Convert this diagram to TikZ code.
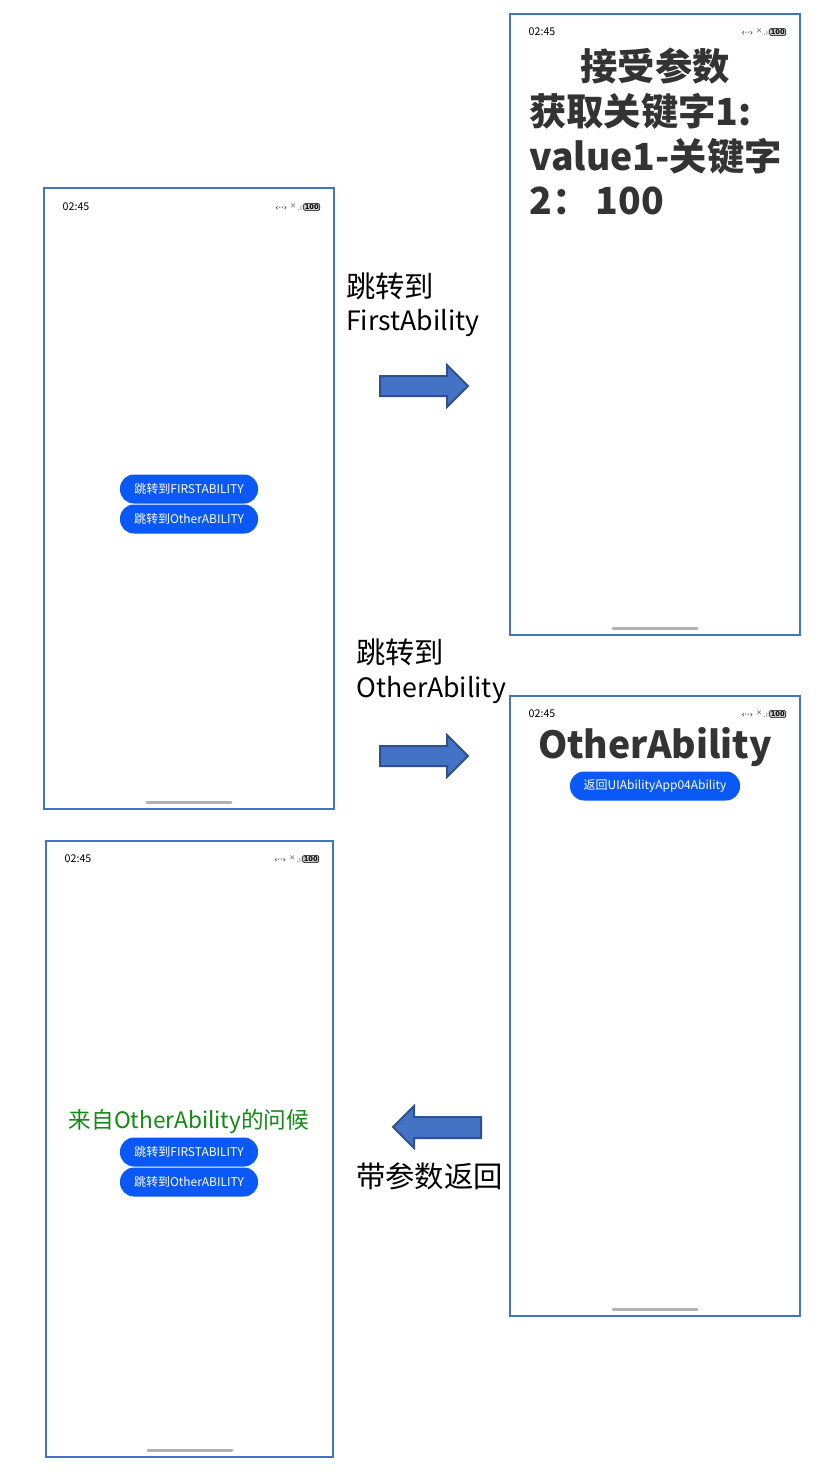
\documentclass[tikz,border=0pt]{standalone}
\usepackage{fontspec}
\setmainfont{Noto Sans CJK SC}
\newfontfamily\dejavu{DejaVu Sans}
\definecolor{frame}{HTML}{4472C4}
\definecolor{btn}{HTML}{0A59F7}
\definecolor{arrf}{HTML}{4472C4}
\definecolor{arrd}{HTML}{2F528F}
\definecolor{grn}{HTML}{138A13}
\tikzset{
 phone/.style={draw=frame,line width=1.2pt,fill=white},
 pbtn/.style={fill=btn,rounded corners=10.5pt,minimum width=138pt*0.75,minimum height=29pt*0.75,text=white,font=\fontsize{9}{10}\selectfont,inner sep=0pt},
 status/.style={font=\fontsize{8}{9}\selectfont,anchor=west},
 homebar/.style={line width=3pt*0.75,draw=gray!60,line cap=round},
 bigarrow/.style={draw=arrd,line width=1.5pt,fill=arrf,line join=miter},
 lbl/.style={anchor=west,font=\fontsize{22}{25}\selectfont,align=left,inner sep=0pt},
 title/.style={font=\fontsize{28}{34}\selectfont\bfseries,text=black!80,inner sep=0pt}
}
\newcommand{\statusbar}[3]{%
 \node[status] at (#1+14,#2) {02:45};
 \node[font=\dejavu\fontsize{6}{7}\selectfont,anchor=east,inner sep=1pt] at (#3-28,#2) {‹··› $^{\times}$\textcolor{gray}{.ıl}};
 \node[draw,rounded corners=1.5pt,fill=gray!40,font=\dejavu\bfseries\fontsize{5}{6}\selectfont,inner sep=0.8pt,anchor=east] at (#3-14,#2) {100};}
\begin{document}
\begin{tikzpicture}[x=0.75pt,y=-0.75pt]
\useasboundingbox[fill=white] (0,0) rectangle (825,1471);
% phone 1
\draw[phone] (44,188) rectangle (334,809);
\statusbar{44}{207}{334}
\node[pbtn] (b1) at (189,489) {跳转到FIRSTABILITY};
\node[pbtn] (b2) at (189,519) {跳转到OtherABILITY};
\draw[homebar] (147,802) -- (231,802);
% phone 2
\draw[phone] (510,14) rectangle (800,635);
\statusbar{510}{32}{800}
\node[title] (t2a) at (655,66) {接受参数};
\node[title,anchor=west] (t2b) at (529,111) {获取关键字1:};
\node[title,anchor=west] (t2c) at (529,156) {value1-关键字};
\node[title,anchor=west] (t2d) at (529,201) {2：\,100};
\draw[homebar] (613,628) -- (697,628);
% phone 3
\draw[phone] (510,696) rectangle (800,1316);
\statusbar{510}{714}{800}
\node[title,font=\fontsize{28}{34}\selectfont\bfseries] (t3) at (655,747) {OtherAbility};
\node[pbtn,minimum width=170pt*0.75] (b3) at (655,786) {返回UIAbilityApp04Ability};
\draw[homebar] (613,1309) -- (697,1309);
% phone 4
\draw[phone] (46,841) rectangle (333,1457);
\statusbar{46}{859}{333}
\node[text=grn,font=\fontsize{17}{18}\selectfont,inner sep=0pt] (g4) at (189,1122) {来自OtherAbility的问候};
\node[pbtn] (b4) at (189,1152) {跳转到FIRSTABILITY};
\node[pbtn] (b5) at (189,1182) {跳转到OtherABILITY};
\draw[homebar] (148,1450) -- (232,1450);
% arrows
\foreach \y in {386,756}{
 \draw[bigarrow] (380,\y-10) -- (447,\y-10) -- (447,\y-21) -- (468,\y) -- (447,\y+21) -- (447,\y+10) -- (380,\y+10) -- cycle;}
\draw[bigarrow] (481,1117) -- (414,1117) -- (414,1106) -- (393,1127) -- (414,1148) -- (414,1138) -- (481,1138) -- cycle;
% labels
\node[lbl] (l1) at (346,286) {跳转到};
\node[lbl,font=\fontsize{20}{22}\selectfont] (l1b) at (346,323) {FirstAbility};
\node[lbl] (l2) at (356,652) {跳转到};
\node[lbl,font=\fontsize{20}{22}\selectfont] (l2b) at (356,690) {OtherAbility};
\node[lbl] (l3) at (356,1176) {带参数返回};
\end{tikzpicture}
\end{document}
